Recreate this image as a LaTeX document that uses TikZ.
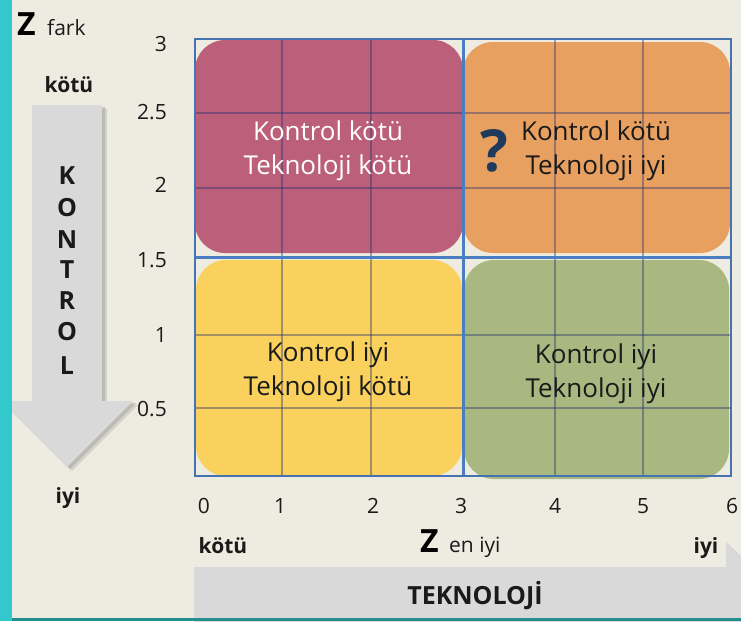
\documentclass[tikz,border=0pt]{standalone}
\usepackage{fontspec}
\setmainfont{Open Sans}
\definecolor{bgc}{HTML}{EEECE1}
\definecolor{tealc}{HTML}{33C9CC}
\definecolor{tealdk}{HTML}{23908F}
\definecolor{redc}{HTML}{BC5F7A}
\definecolor{orangec}{HTML}{E8A060}
\definecolor{yellowc}{HTML}{F9D15C}
\definecolor{greenc}{HTML}{A8B880}
\definecolor{framec}{HTML}{4473B0}
\definecolor{midc}{HTML}{4A7EC2}
\definecolor{gridc}{HTML}{203070}
\definecolor{arrowc}{HTML}{D9D9D9}
\definecolor{shadowc}{HTML}{A9A9A4}
\definecolor{qc}{HTML}{1F3A5A}
\definecolor{txtc}{HTML}{1A1A1A}
\begin{document}
\begin{tikzpicture}[x=1pt,y=-1pt,
  quad/.style={rounded corners=30pt},
  boxtext/.style={font=\fontsize{26}{34}\selectfont, align=center, text=txtc, inner sep=0pt},
  tick/.style={font=\fontsize{21}{21}\selectfont, text=txtc, inner sep=0pt},
  boldlbl/.style={font=\fontsize{21}{21}\selectfont\bfseries, text=txtc, inner sep=0pt},
  letter/.style={font=\fontsize{25}{25}\selectfont\bfseries, text=txtc, inner sep=0pt},
  gridline/.style={draw=gridc, draw opacity=0.4, line width=1.2pt},
  midline/.style={draw=midc, line width=3pt},
  framebox/.style={draw=framec, line width=2.6pt}
]
\useasboundingbox (0,0) rectangle (741,621);
\fill[bgc] (0,0) rectangle (741,621);

% arrows (clipped to picture)
\begin{scope}
\clip (0,0) rectangle (741,621);
% vertical arrow: shadow then body
\fill[shadowc, opacity=0.35] (37,109) -- (107,109) -- (107,405) -- (138,405) -- (72,471) -- (6,405) -- (37,405) -- cycle;
\fill[shadowc, opacity=0.6] (35,107) -- (105,107) -- (105,403) -- (136,403) -- (70,469) -- (4,403) -- (35,403) -- cycle;
\fill[arrowc] (32,105) -- (102,105) -- (102,401) -- (133,401) -- (67,467) -- (1,401) -- (32,401) -- cycle;
% horizontal arrow
\fill[shadowc, opacity=0.35] (198,571) -- (730,571) -- (730,546) -- (790,606) -- (730,666) -- (730,641) -- (198,641) -- cycle;
\fill[shadowc, opacity=0.6] (196,569) -- (728,569) -- (728,544) -- (788,604) -- (728,664) -- (728,639) -- (196,639) -- cycle;
\fill[arrowc] (194,567) -- (726,567) -- (726,542) -- (786,602) -- (726,662) -- (726,637) -- (194,637) -- cycle;
\end{scope}

% teal borders
\fill[tealc] (0,0) rectangle (12,621);
\fill[tealdk] (12,618) rectangle (741,621);

% quadrant boxes
\fill[redc, quad] (195,40) rectangle (463,253);
\fill[orangec, quad] (463,42) rectangle (730,253);
\fill[yellowc, quad] (196,260) rectangle (462,476);
\fill[greenc, quad] (464,260) rectangle (729,479);

% inner grid
\foreach \gx in {282,371,555,643} \draw[gridline] (\gx,39) -- (\gx,476);
\foreach \gy in {113,188,335,408} \draw[gridline] (195,\gy) -- (731,\gy);
% middle lines and frame
\draw[midline] (463,39) -- (463,476);
\draw[midline] (195,257) -- (731,257);
\draw[framebox] (195,39) rectangle (731,476);

% quadrant texts
\node[boxtext, text=white] (tRed) at (328,151) {Kontrol kötü\\Teknoloji kötü};
\node[boxtext] (tOrange) at (596,151) {Kontrol kötü\\Teknoloji iyi};
\node[boxtext] (tYellow) at (328,372) {Kontrol iyi\\Teknoloji kötü};
\node[boxtext] (tGreen) at (596,374) {Kontrol iyi\\Teknoloji iyi};
\node[font=\fontsize{58}{58}\selectfont\bfseries, text=qc, inner sep=0pt] (qmark) at (494,151) {?};

% y ticks
\node[tick, anchor=base east] (y3) at (167,51) {3};
\node[tick, anchor=base east] (y25) at (167,119) {2.5};
\node[tick, anchor=base east] (y2) at (167,192) {2};
\node[tick, anchor=base east] (y15) at (167,267) {1.5};
\node[tick, anchor=base east] (y1) at (167,342) {1};
\node[tick, anchor=base east] (y05) at (167,416) {0.5};

% x ticks
\node[tick, anchor=base] (x0) at (204,513) {0};
\node[tick, anchor=base] (x1) at (280,513) {1};
\node[tick, anchor=base] (x2) at (373,513) {2};
\node[tick, anchor=base] (x3) at (461,513) {3};
\node[tick, anchor=base] (x4) at (555,513) {4};
\node[tick, anchor=base] (x5) at (643,513) {5};
\node[tick, anchor=base] (x6) at (732,513) {6};

% top-left labels
\node[font=\fontsize{32}{32}\selectfont\bfseries, text=black, inner sep=0pt, anchor=base west] (zf) at (17,35) {Z};
\node[font=\fontsize{21}{21}\selectfont, text=txtc, inner sep=0pt, anchor=base west] (fark) at (47,35) {fark};
\node[boldlbl, anchor=base] (vkotu) at (69,92) {kötü};
\node[boldlbl, anchor=base] (viyi) at (68,503) {iyi};

% KONTROL letters
\node[letter] (k1) at (67,176) {K};
\node[letter] (k2) at (67,208) {O};
\node[letter] (k3) at (67,240) {N};
\node[letter] (k4) at (67,270) {T};
\node[letter] (k5) at (67,301) {R};
\node[letter] (k6) at (67,332) {O};
\node[letter] (k7) at (67,366) {L};

% bottom labels
\node[boldlbl, anchor=base] (hkotu) at (223,553) {kötü};
\node[font=\fontsize{32}{32}\selectfont\bfseries, text=black, inner sep=0pt, anchor=base west] (ze) at (420,552) {Z};
\node[font=\fontsize{21}{21}\selectfont, text=txtc, inner sep=0pt, anchor=base west] (eniyi) at (449,552) {en iyi};
\node[boldlbl, anchor=base] (hiyi) at (706,553) {iyi};
\node[font=\fontsize{25}{25}\selectfont\bfseries, text=txtc, inner sep=0pt, anchor=base] (tekno) at (475,604) {TEKNOLOJİ};
\end{tikzpicture}
\end{document}
